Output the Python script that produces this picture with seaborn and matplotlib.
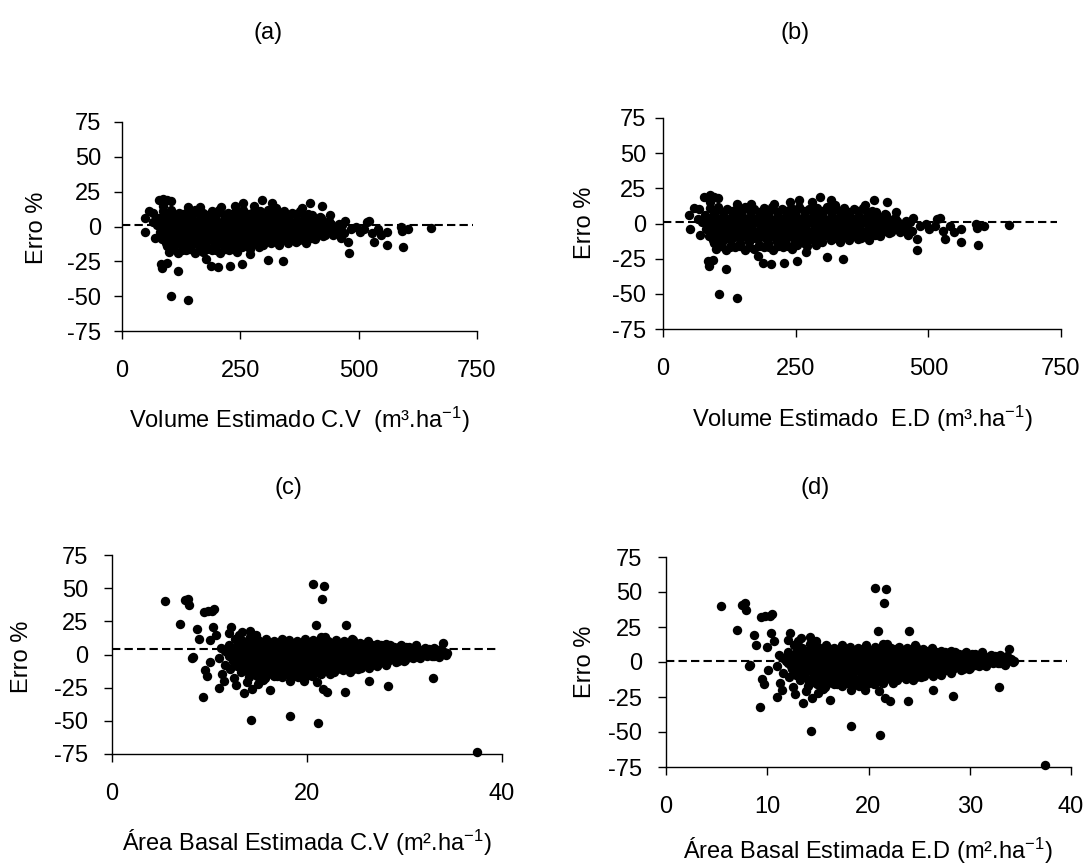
import pandas as pd
import matplotlib
matplotlib.use("Agg")
import matplotlib.pyplot as plt
import seaborn as sns

# Volume estimado (m3/ha) x erro (%) - mesma nuvem nos paineis (a) e (b)
vol_nucleo = [
    # faixa ~ +11
    (88, 11), (104, 12), (121, 10), (139, 11), (155, 12), (172, 10), (190, 11), (206, 12), (224, 10), (241, 11),
    (257, 12), (275, 10), (291, 11), (309, 12), (326, 10), (342, 11), (360, 10), (377, 11), (394, 9),
    # faixa ~ +8.5
    (96, 9), (113, 8), (130, 9), (147, 8), (164, 9), (181, 8), (198, 9), (215, 8), (232, 9), (249, 8),
    (266, 9), (283, 8), (300, 9), (317, 8), (334, 9), (351, 8), (368, 9), (385, 8), (402, 8), (419, 7),
    # faixa ~ +6
    (79, 6), (96, 7), (114, 5), (131, 6), (147, 7), (165, 5), (182, 6), (198, 7), (216, 5), (233, 6), (249, 7),
    (267, 5), (284, 6), (300, 7), (318, 5), (335, 6), (351, 7), (369, 5), (386, 6), (403, 5), (420, 6), (437, 4),
    # faixa ~ +3.5
    (84, 4), (101, 3), (118, 4), (135, 3), (152, 4), (169, 3), (186, 4), (203, 3), (220, 4), (237, 3), (254, 4),
    (271, 3), (288, 4), (305, 3), (322, 4), (339, 3), (356, 4), (373, 3), (390, 4), (407, 3), (424, 3), (441, 2),
    (458, 2),
    # faixa ~ +1
    (74, 1), (92, 2), (109, 0), (126, 1), (143, 2), (160, 0), (177, 1), (194, 2), (211, 0), (228, 1), (245, 2),
    (262, 0), (279, 1), (296, 2), (313, 0), (330, 1), (347, 2), (364, 0), (381, 1), (398, 2), (415, 0), (432, 1),
    (449, 0), (466, 1),
    # faixa ~ -1.5
    (83, -2), (100, -1), (117, -2), (134, -1), (151, -2), (168, -1), (185, -2), (202, -1), (219, -2), (236, -1),
    (253, -2), (270, -1), (287, -2), (304, -1), (321, -2), (338, -1), (355, -2), (372, -1), (389, -2), (406, -1),
    (423, -2), (440, -1), (457, -2),
    # faixa ~ -4
    (81, -4), (97, -3), (114, -5), (131, -4), (148, -3), (165, -5), (182, -4), (199, -3), (216, -5), (233, -4),
    (250, -3), (267, -5), (284, -4), (301, -3), (318, -5), (335, -4), (352, -3), (369, -5), (386, -4), (403, -3),
    (420, -5), (437, -4), (454, -3), (470, -5),
    # faixa ~ -6.5
    (89, -7), (106, -6), (123, -7), (140, -6), (157, -7), (174, -6), (191, -7), (208, -6), (225, -7), (242, -6),
    (259, -7), (276, -6), (293, -7), (310, -6), (327, -7), (344, -6), (361, -7), (378, -6), (395, -7), (412, -6),
    (429, -6), (446, -6), (462, -5),
    # faixa ~ -9
    (86, -9), (103, -8), (119, -10), (136, -9), (153, -8), (170, -10), (187, -9), (204, -8), (221, -10), (238, -9),
    (255, -8), (272, -10), (289, -9), (306, -8), (323, -10), (340, -9), (357, -8), (374, -10), (391, -8), (408, -9),
    (425, -7),
    # faixa ~ -11.5
    (94, -12), (111, -11), (128, -12), (145, -11), (162, -12), (179, -11), (196, -12), (213, -11), (230, -12),
    (247, -11), (264, -12), (281, -11), (298, -11), (315, -10), (332, -11), (349, -10), (366, -9), (383, -9),
    (400, -8),
    # faixa ~ -14
    (96, -14), (112, -13), (129, -15), (146, -14), (163, -13), (180, -15), (197, -14), (214, -13), (231, -15),
    (248, -13), (265, -14), (282, -12), (299, -13), (316, -12), (333, -13), (350, -12), (368, -11),
    # faixa ~ -16
    (109, -16), (127, -17), (145, -16), (163, -17), (181, -16), (199, -17), (217, -16), (235, -16), (253, -15),
    (271, -16), (289, -15),
    # faixa ~ -18
    (100, -18), (118, -19), (136, -17), (154, -19), (172, -18), (190, -17), (208, -19), (226, -17), (244, -18),
]

vol_isolados = [
    (49, 6), (50, -4), (58, 11), (67, 10), (66, 3), (70, -8),
    (78, 19), (88, 20), (96, 19), (104, 18), (88, 15),
    (84, -27), (86, -30), (95, -26), (119, -32), (105, -50), (140, -53),
    (179, -23), (189, -28), (203, -29), (228, -28), (253, -27), (270, -20), (309, -24), (340, -25), (389, -12),
    (139, 14), (166, 14), (210, 14), (240, 15), (256, 17), (280, 15), (296, 19), (317, 17), (325, 13),
    (397, 17), (422, 15), (380, 13),
    (440, 8), (472, 4), (478, -11), (479, -19), (462, -8),
    (485, -2), (495, 0), (502, -4), (512, -2), (517, 3), (522, 4), (528, -5), (532, -11), (540, -2), (548, -6),
    (561, -4), (561, -13), (589, 0), (591, -3), (593, -15), (605, -2), (652, -1),
]

# Area basal estimada (m2/ha) x erro (%) - mesma nuvem nos paineis (c) e (d)
ab_nucleo = [
    # faixa ~ +11
    (12.6, 12), (13.4, 10), (14.2, 13), (15.0, 11), (15.8, 12), (16.6, 10), (17.4, 12), (18.2, 11), (19.0, 10),
    (19.8, 12), (20.6, 11), (21.4, 13), (22.2, 10), (23.0, 11), (23.8, 10), (24.6, 12), (25.4, 9), (26.3, 10),
    (27.2, 8), (28.1, 8),
    # faixa ~ +9
    (13.0, 9), (13.9, 8), (14.7, 9), (15.5, 8), (16.3, 9), (17.1, 8), (17.9, 9), (18.7, 8), (19.5, 9), (20.3, 8),
    (21.1, 9), (21.9, 8), (22.7, 9), (23.5, 8), (24.3, 9), (25.1, 8), (25.9, 8), (26.7, 7), (27.6, 7), (28.5, 7),
    (29.4, 6), (30.2, 6),
    # faixa ~ +7
    (12.0, 7), (12.9, 8), (13.6, 6), (14.5, 7), (15.2, 8), (16.1, 6), (16.8, 7), (17.7, 8), (18.4, 6), (19.3, 7),
    (20.0, 8), (20.9, 6), (21.6, 7), (22.5, 8), (23.2, 6), (24.1, 7), (24.8, 8), (25.7, 6), (26.4, 7), (27.3, 6),
    (28.0, 7), (28.9, 6), (29.6, 7), (30.5, 6), (31.2, 7), (32.1, 5),
    # faixa ~ +5
    (12.2, 5), (13.0, 5), (13.8, 4), (14.6, 5), (15.4, 4), (16.2, 5), (17.0, 4), (17.8, 5), (18.6, 4), (19.4, 5),
    (20.2, 4), (21.0, 5), (21.8, 4), (22.6, 5), (23.4, 4), (24.2, 5), (25.0, 4), (25.8, 5), (26.6, 4), (27.4, 5),
    (28.2, 4), (29.0, 5), (29.8, 4), (30.6, 5), (31.4, 4), (32.2, 4), (33.0, 5), (33.7, 4),
    # faixa ~ +3
    (11.6, 3), (12.4, 2), (13.3, 4), (14.0, 3), (14.9, 2), (15.6, 4), (16.5, 3), (17.2, 2), (18.1, 4), (18.8, 3),
    (19.7, 2), (20.4, 4), (21.3, 3), (22.0, 2), (22.9, 4), (23.6, 3), (24.5, 2), (25.2, 4), (26.1, 3), (26.8, 2),
    (27.7, 4), (28.4, 3), (29.3, 2), (30.0, 4), (30.9, 3), (31.6, 2), (32.5, 4), (33.2, 3), (34.1, 2),
    # faixa ~ +1
    (11.9, 1), (12.7, 1), (13.5, 0), (14.3, 1), (15.1, 0), (15.9, 1), (16.7, 0), (17.5, 1), (18.3, 0), (19.1, 1),
    (19.9, 0), (20.7, 1), (21.5, 0), (22.3, 1), (23.1, 0), (23.9, 1), (24.7, 0), (25.5, 1), (26.3, 0), (27.1, 1),
    (27.9, 0), (28.7, 1), (29.5, 0), (30.3, 1), (31.1, 0), (31.9, 1), (32.7, 0), (33.5, 1), (34.3, 0),
    # faixa ~ -1
    (12.0, -1), (12.9, 0), (13.6, -2), (14.5, -1), (15.2, 0), (16.1, -2), (16.8, -1), (17.7, 0), (18.4, -2),
    (19.3, -1), (20.0, 0), (20.9, -2), (21.6, -1), (22.5, 0), (23.2, -2), (24.1, -1), (24.8, 0), (25.7, -2),
    (26.4, -1), (27.3, 0), (28.0, -2), (28.9, -1), (29.6, 0), (30.5, -2), (31.2, -1), (32.1, 0), (32.8, -1),
    (33.6, 0),
    # faixa ~ -3
    (12.3, -3), (13.1, -3), (13.9, -4), (14.7, -3), (15.5, -4), (16.3, -3), (17.1, -4), (17.9, -3), (18.7, -4),
    (19.5, -3), (20.3, -4), (21.1, -3), (21.9, -4), (22.7, -3), (23.5, -4), (24.3, -3), (25.1, -4), (25.9, -3),
    (26.7, -4), (27.5, -3), (28.3, -3), (29.1, -3), (29.9, -2), (30.7, -2), (31.5, -2), (32.3, -1), (33.0, -1),
    # faixa ~ -5
    (12.4, -5), (13.3, -6), (14.0, -4), (14.9, -5), (15.6, -6), (16.5, -4), (17.2, -5), (18.1, -6), (18.8, -4),
    (19.7, -5), (20.4, -6), (21.3, -4), (22.0, -5), (22.9, -6), (23.6, -4), (24.5, -5), (25.2, -6), (26.1, -4),
    (26.8, -5), (27.7, -6), (28.4, -4), (29.3, -5), (30.0, -4), (30.9, -3), (31.6, -3),
    # faixa ~ -7
    (12.9, -7), (13.7, -8), (14.5, -7), (15.3, -8), (16.1, -7), (16.9, -8), (17.7, -7), (18.5, -8), (19.3, -7),
    (20.1, -8), (20.9, -7), (21.7, -8), (22.5, -7), (23.3, -8), (24.1, -7), (24.9, -7), (25.7, -6), (26.5, -7),
    (27.3, -6), (28.2, -6), (29.1, -6), (29.9, -5),
    # faixa ~ -9
    (12.8, -9), (13.6, -10), (14.5, -8), (15.2, -9), (16.1, -10), (16.8, -8), (17.7, -9), (18.4, -10), (19.3, -8),
    (20.0, -9), (20.9, -10), (21.6, -8), (22.5, -9), (23.2, -10), (24.1, -8), (24.8, -9), (25.7, -8), (26.4, -9),
    (27.3, -7), (28.1, -8),
    # faixa ~ -11
    (13.5, -11), (14.3, -12), (15.1, -11), (15.9, -12), (16.7, -11), (17.5, -12), (18.3, -11), (19.1, -12),
    (19.9, -11), (20.7, -12), (21.5, -11), (22.3, -11), (23.1, -11), (23.9, -10), (24.7, -11), (25.5, -10),
    (26.4, -10), (27.2, -9),
    # faixa ~ -13
    (13.2, -13), (14.1, -14), (14.8, -12), (15.7, -13), (16.4, -14), (17.3, -12), (18.0, -13), (18.9, -14),
    (19.6, -12), (20.5, -13), (21.2, -14), (22.1, -12), (22.8, -13), (23.7, -12), (24.4, -13), (25.2, -11),
    # faixa ~ -15
    (14.2, -15), (15.1, -16), (16.0, -15), (16.9, -16), (17.8, -15), (18.7, -16), (19.6, -15), (20.5, -16),
    (21.4, -15), (22.4, -15),
    # faixa ~ -17
    (14.0, -17), (14.9, -16), (15.7, -18), (16.6, -16), (17.4, -17), (18.3, -16), (19.1, -17), (19.9, -16),
    (20.6, -15),
]

ab_isolados = [
    (5.4, 40), (7.0, 23), (7.5, 41), (7.8, 42), (7.9, 37), (8.2, -3), (8.3, -2), (8.7, 19), (8.9, 12),
    (9.3, -32), (9.4, 32), (9.8, 33), (10.3, 33), (10.5, 34), (9.5, -12), (9.7, -16), (10.0, 11), (10.1, -6),
    (10.4, 21), (10.7, 15), (11.0, -25), (11.3, -15), (11.5, -20), (12.2, 21), (12.7, -23), (13.5, -29),
    (14.2, 18), (14.3, -49), (14.4, -26), (16.2, -27), (18.3, -46), (18.3, -20), (19.7, -20),
    (20.6, 53), (20.9, 22), (21.0, -21), (21.1, -52), (21.5, 42), (21.7, 52), (21.6, -26), (22.1, -28),
    (21.8, 13), (23.9, -28), (24.0, 22), (24.7, 11), (26.4, -20), (28.3, -24), (32.9, -18), (33.9, 9),
    (33.5, -2), (34.4, 1), (37.4, -73.5),
    (11.2, 5), (11.0, -3), (11.6, -8), (12.0, 16), (12.5, -18), (13.0, 15), (13.8, -21), (15.0, -22),
    (15.5, -19), (14.8, 15), (13.3, 17), (12.1, -11),
]

df_vol = pd.DataFrame(vol_nucleo + vol_isolados, columns=["estimado", "erro"])
df_ab = pd.DataFrame(ab_nucleo + ab_isolados, columns=["estimado", "erro"])

sns.set_theme(style="ticks")
plt.rcParams["font.family"] = ["Liberation Sans", "DejaVu Sans"]
plt.rcParams["mathtext.fontset"] = "custom"
plt.rcParams["mathtext.rm"] = "Liberation Sans"
plt.rcParams["mathtext.it"] = "Liberation Sans:italic"
plt.rcParams["axes.edgecolor"] = "black"
plt.rcParams["axes.linewidth"] = 1.0
plt.rcParams["axes.unicode_minus"] = False
plt.rcParams["text.color"] = "black"
plt.rcParams["xtick.color"] = "black"
plt.rcParams["ytick.color"] = "black"

W, H = 1086, 866
FS = 17
fig = plt.figure(figsize=(W / 100, H / 100), dpi=100)

paineis = [
    dict(df=df_vol, caixa=(121.7, 122, 477, 331), xlim=750, xticks=[0, 250, 500, 750], ref=1,
         titulo="(a)", pos_titulo=(268, 33), pos_y=(37, 228), pos_x=(299, 420), pad_y=9,
         xlabel="Volume Estimado C.V  (m³.ha$^{-1}$)"),
    dict(df=df_vol, caixa=(663, 118, 1061, 329), xlim=750, xticks=[0, 250, 500, 750], ref=1,
         titulo="(b)", pos_titulo=(795, 33), pos_y=(585, 223), pos_x=(862, 419), pad_y=6,
         xlabel="Volume Estimado  E.D (m³.ha$^{-1}$)"),
    dict(df=df_ab, caixa=(112, 555, 502, 754), xlim=40, xticks=[0, 20, 40], ref=4,
         titulo="(c)", pos_titulo=(288, 488), pos_y=(22, 657), pos_x=(307, 843), pad_y=11,
         xlabel="Área Basal Estimada C.V (m².ha$^{-1}$)"),
    dict(df=df_ab, caixa=(666, 557, 1071, 767), xlim=40, xticks=[0, 10, 20, 30, 40], ref=1,
         titulo="(d)", pos_titulo=(815, 488), pos_y=(585, 662), pos_x=(868, 851), pad_y=11,
         xlabel="Área Basal Estimada E.D (m².ha$^{-1}$)"),
]

for p in paineis:
    l, t, r, b = p["caixa"]
    ax = fig.add_axes([l / W, 1 - b / H, (r - l) / W, (b - t) / H])
    sns.scatterplot(data=p["df"], x="estimado", y="erro", ax=ax, color="black", s=46,
                    linewidth=0, legend=False, clip_on=False, zorder=3)
    ax.axhline(p["ref"], xmax=0.99, color="black", linewidth=1.5, linestyle=(0, (4, 2)), zorder=2)
    ax.set_xlim(0, p["xlim"])
    ax.set_ylim(-75, 75)
    ax.set_xticks(p["xticks"])
    ax.set_yticks([-75, -50, -25, 0, 25, 50, 75])
    ax.set_xlabel("")
    ax.set_ylabel("")
    sns.despine(ax=ax)
    ax.tick_params(axis="both", direction="out", length=6, width=1, color="black", labelsize=FS)
    ax.tick_params(axis="x", pad=15)
    ax.tick_params(axis="y", pad=p["pad_y"])

    fig.text(p["pos_titulo"][0] / W, 1 - p["pos_titulo"][1] / H, p["titulo"], ha="center", va="center", fontsize=FS)
    fig.text(p["pos_y"][0] / W, 1 - p["pos_y"][1] / H, "Erro %", ha="center", va="center",
             rotation=90, fontsize=FS)
    fig.text(p["pos_x"][0] / W, 1 - p["pos_x"][1] / H, p["xlabel"], ha="center", va="center", fontsize=FS)

fig.savefig("out.png", dpi=100, facecolor="white")
